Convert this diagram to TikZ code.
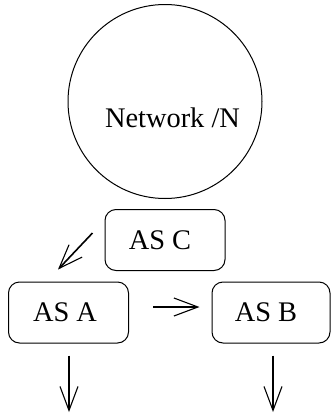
\documentclass[tikz,border=0pt]{standalone}
\usepackage{fontspec}
\setmainfont{Liberation Serif}
\usetikzlibrary{arrows.meta}
\begin{document}
\begin{tikzpicture}[x=1pt,y=-1pt,
  every node/.style={font=\fontsize{28.4}{34}\selectfont, inner sep=0pt},
  asbox/.style={draw, line width=1pt, rounded corners=11pt, minimum width=120pt, minimum height=61pt},
  netcircle/.style={draw, line width=1pt, circle, minimum size=194pt},
  arr/.style={line width=1.6pt, -{Straight Barb[length=24pt,width=18pt,line width=1.1pt]}}]
  \useasboundingbox (0,0) rectangle (331,418);
  % network cloud
  \node[netcircle] (N) at (165,101.5) {};
  \node (Nlbl) at (172.5,118) {Network /N};
  % autonomous systems
  \node[asbox] (C) at (165,240) {};
  \node[asbox] (A) at (68.5,312.5) {};
  \node[asbox, minimum width=118pt] (B) at (271,312.5) {};
  \node (Clbl) at (160,240) {AS C};
  \node (Albl) at (65,312) {AS A};
  \node (Blbl) at (266,312) {AS B};
  % outgoing links
  \coordinate (outA) at (69,412);
  \coordinate (outB) at (273,412);
  % arrows
  \draw[arr] ([xshift=-12pt,yshift=7pt]C.west) -- ([xshift=-10.5pt,yshift=12pt]A.north);
  \draw[arr] ([xshift=24pt,yshift=5.5pt]A.east) -- ([xshift=-12pt,yshift=5.5pt]B.west);
  \draw[arr] ([xshift=0.5pt,yshift=-12pt]A.south) -- (outA);
  \draw[arr] ([xshift=2pt,yshift=-12pt]B.south) -- (outB);
\end{tikzpicture}
\end{document}
